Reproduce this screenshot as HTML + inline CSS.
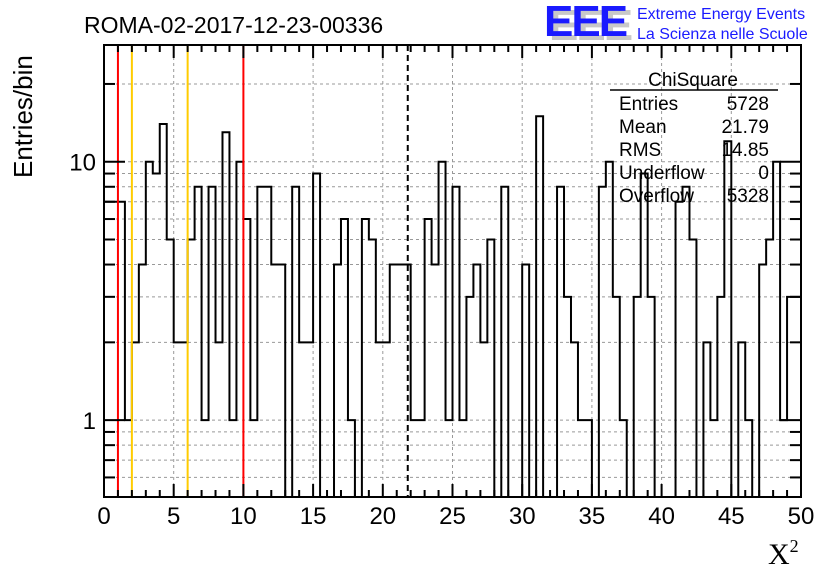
<!DOCTYPE html>
<html><head><meta charset="utf-8"><style>
body{margin:0;background:#fff}
svg{display:block;font-family:"Liberation Sans",sans-serif}
</style></head><body>
<svg id="c" width="836" height="572" viewBox="0 0 836 572">
<text x="84" y="33" font-size="23">ROMA-02-2017-12-23-00336</text>
<g>
<text x="549" y="40" font-size="44" font-weight="bold" fill="#c8c8c8" letter-spacing="-2">EEE</text>
<text x="544" y="36" font-size="44" font-weight="bold" fill="#1a1aff" letter-spacing="-2">EEE</text>
<text x="637" y="19" font-size="16" fill="#1a1aff">Extreme Energy Events</text>
<text x="637" y="39" font-size="16" fill="#1a1aff">La Scienza nelle Scuole</text>
</g>
<g id="grid"></g>
<g id="marks"></g>
<g id="axes"></g>
<g font-size="19">
<text x="693" y="86" text-anchor="middle">ChiSquare</text>
<line x1="610" y1="90" x2="778" y2="90" stroke="#000" stroke-width="1.5"/>
<text x="619" y="110">Entries</text><text x="769" y="110" text-anchor="end">5728</text>
<text x="619" y="133">Mean</text><text x="769" y="133" text-anchor="end">21.79</text>
<text x="619" y="156">RMS</text><text x="769" y="156" text-anchor="end">14.85</text>
<text x="619" y="179">Underflow</text><text x="769" y="179" text-anchor="end">0</text>
<text x="619" y="202">Overflow</text><text x="769" y="202" text-anchor="end">5328</text>
</g>
<text transform="translate(32,178) rotate(-90)" font-size="26">Entries/bin</text>
<text x="768" y="564" font-size="30" font-family="Liberation Serif,serif">X<tspan font-size="18" dy="-12">2</tspan></text>
<script>
const binWidth = 0.5;
const counts = [7,7,7,1,2,4,10,9,14,5,2,2,5,8,1,8,2,13,1,10,6,1,8,8,4,4,0,8,2,2,9,0,0,4,6,1,0,6,5,2,2,4,4,4,1,1,6,4,10,1,8,1,3,4,2,5,0,8,0,0,4,0,15,0,0,8,3,2,1,1,0,8,10,3,1,0,3,9,3,0,0,0,7,8,5,0,2,1,3,12,0,2,1,0,4,5,10,1,3,3];
const xTickLabels = [0,5,10,15,20,25,30,35,40,45,50];
const yTickLabels = [1,10];
const redLines = [1,10];
const goldLines = [2,6];
const meanValue = 21.79;
const X0=104,X1=801,Y0=45,Y1=497,xmin=0,xmax=50,ymin=0.504,ymax=28.3;
const ns='http://www.w3.org/2000/svg';
function sx(v){return X0+(v-xmin)/(xmax-xmin)*(X1-X0);}
function sy(v){v=Math.max(v,ymin);return Y1-(Math.log10(v)-Math.log10(ymin))/(Math.log10(ymax)-Math.log10(ymin))*(Y1-Y0);}
function mk(p,t,a){const e=document.createElementNS(ns,t);for(const k in a)e.setAttribute(k,a[k]);p.appendChild(e);return e;}
const grid=document.getElementById('grid'),marks=document.getElementById('marks'),axes=document.getElementById('axes');
for(let v=5;v<50;v+=5){const l=mk(grid,'line',{x1:sx(v),x2:sx(v),y1:Y0,y2:Y1,stroke:'#999','stroke-dasharray':'3,3'});

}
const yg=[0.6,0.7,0.8,0.9,1,2,3,4,5,6,7,8,9,10,20];
yg.forEach(v=>{const l=mk(grid,'line',{x1:X0,x2:X1,y1:sy(v),y2:sy(v),stroke:'#999','stroke-dasharray':'3,3'});

});
let d='M'+sx(0)+' '+Y1;
counts.forEach((c,i)=>{const y=sy(c);d+=' L'+sx(i*binWidth)+' '+y+' L'+sx((i+1)*binWidth)+' '+y;});
d+=' L'+sx(counts.length*binWidth)+' '+Y1;
const h=mk(marks,'path',{d:d,fill:'none',stroke:'#000','stroke-width':2});


redLines.forEach(v=>{const l=mk(marks,'line',{x1:sx(v),x2:sx(v),y1:Y0,y2:Y1,stroke:'#f00','stroke-width':2});

});
goldLines.forEach(v=>{const l=mk(marks,'line',{x1:sx(v),x2:sx(v),y1:Y0,y2:Y1,stroke:'#fc0','stroke-width':2});

});
const ml=mk(marks,'line',{x1:sx(meanValue),x2:sx(meanValue),y1:Y0,y2:Y1,stroke:'#000','stroke-width':2,'stroke-dasharray':'6,4'});


const fr=mk(axes,'rect',{x:X0,y:Y0,width:X1-X0,height:Y1-Y0,fill:'none',stroke:'#000','stroke-width':2});


for(let v=0;v<=50;v++){const L=v%5==0?13:7;
mk(axes,'line',{x1:sx(v),x2:sx(v),y1:Y1,y2:Y1-L,stroke:'#000','stroke-width':2});
mk(axes,'line',{x1:sx(v),x2:sx(v),y1:Y0,y2:Y0+L,stroke:'#000','stroke-width':2});}
const yt=[0.6,0.7,0.8,0.9,1,2,3,4,5,6,7,8,9,10,20];
yt.forEach(v=>{const L=(v==1||v==10)?21:11;
mk(axes,'line',{x1:X0,x2:X0+L,y1:sy(v),y2:sy(v),stroke:'#000','stroke-width':2});
mk(axes,'line',{x1:X1,x2:X1-L,y1:sy(v),y2:sy(v),stroke:'#000','stroke-width':2});});
xTickLabels.forEach(v=>{const t=mk(axes,'text',{x:sx(v),y:524,'font-size':24,'text-anchor':'middle'});t.textContent=v;

});
yTickLabels.forEach(v=>{const t=mk(axes,'text',{x:96,y:sy(v)+9,'font-size':24,'text-anchor':'end'});t.textContent=v;

});
</script>
</svg>
</body></html>
